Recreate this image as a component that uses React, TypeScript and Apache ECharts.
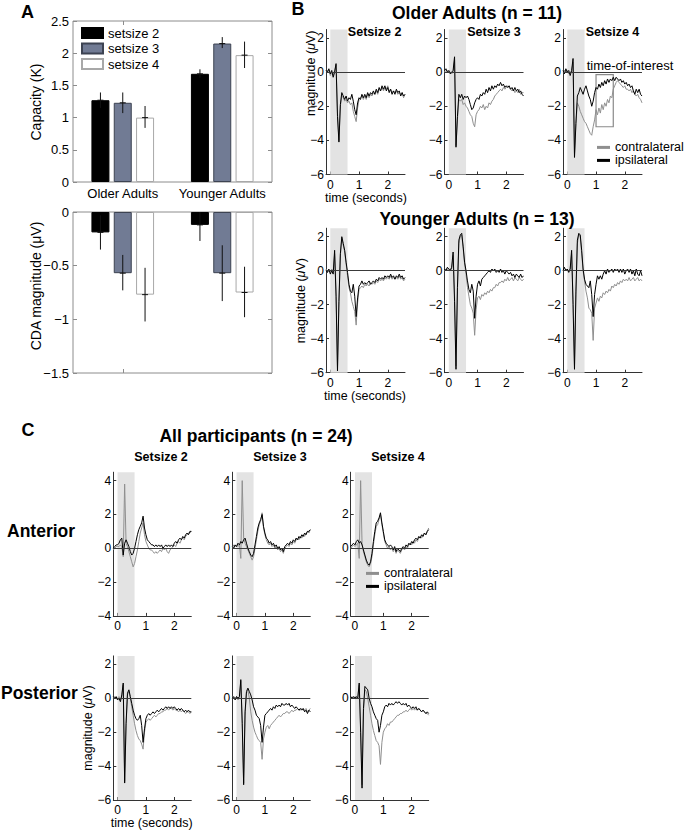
import React, { useEffect, useRef } from "react";
import * as echarts from "echarts";

const FONT = "'Liberation Sans', Arial, Helvetica, sans-serif";

// ---------- Panel A data ----------
const groups = ["Older Adults", "Younger Adults"];
const setNames = ["setsize 2", "setsize 3", "setsize 4"];
const capS2 = [1.27, 1.68];
const capS3 = [1.23, 2.15];
const capS4 = [1.0, 1.97];
const capS2Lo = [1.15, 1.62];
const capS2Hi = [1.39, 1.75];
const capS3Lo = [1.07, 2.08];
const capS3Hi = [1.39, 2.25];
const capS4Lo = [0.84, 1.77];
const capS4Hi = [1.18, 2.18];
const cdaS2 = [-0.19, -0.12];
const cdaS3 = [-0.57, -0.57];
const cdaS4 = [-0.77, -0.75];
const cdaS2Lo = [-0.35, -0.27];
const cdaS2Hi = [-0.03, 0.03];
const cdaS3Lo = [-0.73, -0.83];
const cdaS3Hi = [-0.4, -0.31];
const cdaS4Lo = [-1.02, -0.98];
const cdaS4Hi = [-0.52, -0.51];
const capTicks = [0, 0.5, 1, 1.5, 2, 2.5];
const cdaTicks = [-1.5, -1, -0.5, 0];

// ---------- ERP data ----------
const TIME = [
  -0.15, -0.1, -0.05, 0, 0.05, 0.1, 0.15, 0.2,
  0.25, 0.3, 0.35, 0.4, 0.45, 0.5, 0.55, 0.6,
  0.65, 0.7, 0.75, 0.8, 0.85, 0.9, 0.95, 1.0,
  1.05, 1.1, 1.15, 1.2, 1.25, 1.3, 1.35, 1.4,
  1.45, 1.5, 1.55, 1.6, 1.65, 1.7, 1.75, 1.8,
  1.85, 1.9, 1.95, 2.0, 2.05, 2.1, 2.15, 2.2,
  2.25, 2.3, 2.35, 2.4, 2.45, 2.5, 2.55, 2.6,
];
const timeTicks = [0, 1, 2];
const shadeWindow = [0, 0.6];
const toiX = [1.0, 1.6];
const toiY = [-0.15, -3.2];

const olderS2Ipsi = [
  0.1, 0.0, 0.2, -0.1, 0.1, -0.3, 0.0, 0.5,
  -2.6, -4.1, -1.9, -1.2, -1.4, -1.6, -1.4, -1.7,
  -1.5, -1.6, -1.3, -1.7, -2.2, -2.5, -1.8, -1.5,
  -1.6, -1.3, -1.5, -1.3, -1.5, -1.2, -1.4, -1.2,
  -1.3, -1.1, -1.3, -1.0, -1.2, -0.9, -1.1, -0.8,
  -1.0, -0.8, -1.1, -0.9, -1.2, -1.0, -1.3, -1.1,
  -1.3, -1.0, -1.2, -1.1, -1.4, -1.2, -1.4, -1.3,
];
const olderS2Contra = [
  0.0, 0.1, 0.1, -0.2, 0.0, -0.2, 0.1, 0.4,
  -2.4, -4.0, -2.0, -1.4, -1.5, -1.7, -1.6, -1.8,
  -1.7, -1.9, -1.8, -2.3, -2.6, -2.9, -2.1, -1.6,
  -1.5, -1.4, -1.6, -1.4, -1.6, -1.3, -1.5, -1.3,
  -1.4, -1.2, -1.3, -1.1, -1.3, -1.0, -1.1, -0.9,
  -1.1, -0.9, -1.0, -0.8, -1.1, -1.0, -1.2, -1.1,
  -1.2, -1.1, -1.3, -1.2, -1.3, -1.2, -1.5, -1.3,
];
const olderS3Ipsi = [
  0.1, 0.2, 0.0, 0.1, -0.1, 0.0, 0.1, 0.9,
  -4.4, -2.6, -1.3, -1.5, -1.3, -1.6, -1.4, -1.5,
  -1.4, -1.6, -1.9, -2.2, -2.1, -1.8, -1.6, -1.5,
  -1.6, -1.3, -1.4, -1.2, -1.3, -1.0, -1.2, -0.9,
  -1.1, -0.8, -1.0, -0.8, -0.9, -0.7, -0.8, -0.6,
  -0.8, -0.7, -0.9, -0.8, -0.9, -0.8, -1.0, -0.9,
  -1.1, -0.9, -1.1, -1.0, -1.2, -1.1, -1.3, -1.4,
];
const olderS3Contra = [
  0.0, 0.1, 0.1, 0.0, 0.0, -0.1, 0.0, 0.7,
  -4.3, -2.8, -1.6, -1.7, -1.6, -1.9, -1.8, -2.0,
  -2.1, -2.3, -2.5, -2.6, -3.0, -3.2, -2.5, -2.3,
  -2.2, -2.0, -2.1, -1.9, -2.2, -2.0, -2.1, -1.8,
  -1.9, -1.7, -1.6, -1.4, -1.3, -1.2, -1.1, -1.0,
  -1.1, -0.9, -1.0, -0.9, -0.8, -0.9, -1.0, -1.1,
  -1.0, -1.2, -1.1, -1.2, -1.0, -1.3, -1.2, -1.2,
];
const olderS4Ipsi = [
  0.1, -0.1, 0.2, 0.0, 0.1, -0.2, 0.1, 0.8,
  -5.0, -3.0, -1.4, -1.2, -0.9, -1.1, -1.3, -1.0,
  -0.8, -1.1, -1.4, -1.6, -2.0, -1.7, -1.2, -0.9,
  -1.0, -0.7, -0.9, -0.6, -0.8, -0.5, -0.7, -0.4,
  -0.6, -0.4, -0.5, -0.3, -0.5, -0.3, -0.4, -0.5,
  -0.4, -0.6, -0.5, -0.7, -0.6, -0.8, -0.7, -0.9,
  -0.8, -1.1, -1.3, -1.0, -1.2, -1.0, -1.3, -1.4,
];
const olderS4Contra = [
  0.0, 0.1, 0.0, 0.1, -0.1, 0.0, 0.0, 0.6,
  -4.8, -3.0, -1.8, -2.0, -2.3, -2.5, -2.7, -2.9,
  -3.0, -3.2, -3.4, -3.6, -3.7, -3.2, -2.8, -2.2,
  -2.5, -2.1, -2.4, -1.9, -2.2, -1.8, -2.0, -1.6,
  -1.8, -1.4, -1.5, -1.0, -0.8, -0.6, -0.5, -0.6,
  -0.7, -0.8, -0.9, -0.8, -1.0, -1.0, -1.1, -1.0,
  -1.2, -1.1, -1.3, -1.4, -1.3, -1.5, -1.6, -1.8,
];
const youngerS2Ipsi = [
  0.0, -0.1, 0.1, -0.2, 0.0, -0.2, 1.2, -1.5,
  -5.9, -1.8, 1.0, 2.0, 1.6, 1.2, 0.5, -0.1,
  -0.8, -1.2, -1.3, -0.8, -1.5, -2.7, -1.6, -0.9,
  -0.8, -0.6, -0.8, -0.7, -0.8, -0.7, -0.6, -0.8,
  -0.7, -0.6, -0.7, -0.5, -0.6, -0.4, -0.5, -0.4,
  -0.5, -0.3, -0.4, -0.3, -0.4, -0.2, -0.4, -0.3,
  -0.5, -0.3, -0.4, -0.2, -0.4, -0.3, -0.5, -0.4,
];
const youngerS2Contra = [
  0.1, -0.1, 0.0, -0.1, 0.1, -0.1, 1.0, -1.2,
  -5.7, -1.9, 0.9, 1.9, 1.5, 1.1, 0.4, -0.3,
  -1.0, -1.3, -1.8, -2.1, -2.4, -3.2, -1.9, -1.1,
  -1.0, -0.9, -1.0, -0.8, -0.9, -0.8, -0.9, -0.7,
  -0.8, -0.7, -0.8, -0.6, -0.7, -0.5, -0.6, -0.5,
  -0.6, -0.4, -0.5, -0.4, -0.5, -0.3, -0.5, -0.4,
  -0.5, -0.4, -0.5, -0.3, -0.5, -0.4, -0.6, -0.5,
];
const youngerS3Ipsi = [
  0.1, 0.0, 0.2, 0.1, 0.0, 0.2, 1.1, -1.8,
  -5.8, -1.0, 1.8, 2.1, 2.2, 1.4, 0.5, 0.0,
  -0.6, -1.1, -1.3, -0.8, -1.2, -2.8, -1.5, -0.8,
  -0.6, -0.9, -0.5, -0.4, -0.3, -0.2, -0.1, 0.0,
  -0.1, 0.1, 0.0, 0.1, -0.1, 0.0, -0.1, 0.1,
  -0.1, 0.0, -0.2, 0.0, -0.1, -0.2, -0.1, -0.3,
  -0.2, -0.4, -0.2, -0.3, -0.4, -0.2, -0.4, -0.3,
];
const youngerS3Contra = [
  0.0, 0.1, 0.1, 0.0, 0.1, 0.1, 0.9, -1.5,
  -5.6, -1.2, 1.6, 2.0, 2.1, 1.3, 0.4, -0.2,
  -1.0, -1.5, -2.0, -2.2, -2.5, -3.8, -2.3, -1.6,
  -1.5, -1.7, -1.4, -1.5, -1.3, -1.4, -1.2, -1.3,
  -1.1, -1.2, -1.0, -1.0, -0.8, -0.9, -0.7, -0.7,
  -0.6, -0.7, -0.5, -0.6, -0.4, -0.6, -0.5, -0.4,
  -0.6, -0.4, -0.5, -0.6, -0.4, -0.5, -0.6, -0.5,
];
const youngerS4Ipsi = [
  0.0, 0.2, 0.0, 0.1, -0.1, 0.1, 1.2, -2.0,
  -5.8, -1.2, 1.8, 2.2, 2.1, 1.2, 0.1, -0.5,
  -0.8, -0.9, -1.0, -0.6, -1.4, -2.7, -1.4, -0.8,
  -0.3, -0.5, -0.3, -0.5, -0.2, 0.0, -0.2, 0.1,
  -0.1, 0.0, 0.1, -0.1, 0.1, 0.0, 0.1, -0.1,
  0.1, -0.1, 0.1, -0.2, 0.0, 0.1, -0.1, 0.1,
  -0.2, 0.0, -0.3, 0.1, -0.2, -0.3, 0.0, -0.3,
];
const youngerS4Contra = [
  0.1, 0.0, 0.1, 0.0, 0.0, 0.1, 1.0, -1.7,
  -5.6, -1.4, 1.6, 2.1, 2.0, 1.0, 0.0, -0.6,
  -1.2, -1.6, -2.2, -2.3, -2.5, -4.1, -2.2, -1.9,
  -1.6, -1.8, -1.5, -1.6, -1.3, -1.4, -1.2, -1.3,
  -1.1, -1.2, -0.9, -1.0, -0.8, -0.9, -0.7, -0.8,
  -0.6, -0.7, -0.5, -0.6, -0.5, -0.6, -0.4, -0.6,
  -0.5, -0.4, -0.6, -0.5, -0.4, -0.6, -0.5, -0.6,
];
const antS2Ipsi = [
  0.0, 0.1, 0.2, 0.2, 0.3, 0.5, 0.6, -0.4,
  0.3, 0.5, 0.3, 0.1, -0.2, -0.4, -0.3, 0.0,
  0.4, 0.8, 1.1, 1.3, 1.5, 1.9, 1.2, 0.8,
  0.5, 0.4, 0.3, 0.2, 0.2, 0.1, 0.2, 0.1,
  0.2, 0.1, 0.2, 0.0, 0.1, 0.2, 0.1, 0.2,
  0.1, 0.2, 0.1, 0.3, 0.4, 0.3, 0.5, 0.6,
  0.5, 0.7, 0.6, 0.8, 0.9, 0.8, 1.0, 1.0,
];
const antS2Contra = [
  -0.1, 0.0, 0.1, 0.1, 0.1, 0.2, 0.1, -0.5,
  3.8, 0.3, 0.1, -0.2, -0.5, -0.8, -1.1, -0.9,
  -0.5, -0.1, 0.4, 0.9, 1.2, 1.5, 0.8, 0.4,
  0.2, 0.0, -0.1, -0.1, -0.2, -0.3, -0.2, -0.3,
  -0.2, -0.1, -0.2, 0.0, -0.1, 0.0, -0.2, -0.3,
  -0.1, 0.0, 0.1, 0.2, 0.1, 0.3, 0.4, 0.3,
  0.5, 0.6, 0.5, 0.7, 0.8, 0.9, 0.9, 1.0,
];
const antS3Ipsi = [
  0.1, 0.0, 0.2, 0.1, 0.3, 0.2, 0.4, 0.3,
  0.5, 0.6, 0.3, 0.0, -0.2, -0.4, -0.5, -0.3,
  0.2, 0.7, 1.2, 1.5, 1.7, 2.0, 1.3, 0.9,
  0.6, 0.5, 0.3, 0.4, 0.2, 0.3, 0.1, 0.2,
  0.0, 0.1, -0.1, 0.0, -0.2, 0.1, 0.2, 0.3,
  0.2, 0.4, 0.3, 0.5, 0.4, 0.6, 0.5, 0.7,
  0.6, 0.8, 0.7, 0.9, 0.8, 1.0, 1.0, 1.1,
];
const antS3Contra = [
  0.0, 0.2, 0.1, 0.2, 0.1, 0.2, -0.6, 4.0,
  0.6, 0.3, 0.1, -0.1, -0.3, -0.5, -0.7, -0.5,
  0.0, 0.5, 1.0, 1.4, 1.6, 2.1, 1.2, 0.8,
  0.5, 0.3, 0.2, 0.3, 0.1, 0.2, 0.0, 0.1,
  -0.1, 0.0, -0.2, -0.1, -0.3, 0.0, 0.1, 0.2,
  0.1, 0.3, 0.2, 0.4, 0.3, 0.5, 0.6, 0.5,
  0.7, 0.6, 0.8, 0.7, 0.9, 1.0, 0.9, 1.1,
];
const antS4Ipsi = [
  0.1, 0.2, 0.3, 0.2, 0.4, 0.5, 0.3, 0.4,
  0.2, -0.1, -0.4, -0.7, -0.9, -1.0, -0.8, -0.3,
  0.4, 1.0, 1.5, 1.6, 1.8, 2.1, 1.5, 1.0,
  0.5, 0.3, 0.2, 0.1, 0.2, 0.1, -0.1, 0.1,
  -0.2, 0.0, -0.1, -0.2, 0.0, 0.1, 0.0, 0.2,
  0.1, 0.3, 0.2, 0.4, 0.3, 0.5, 0.6, 0.5,
  0.7, 0.6, 0.8, 0.7, 0.9, 0.8, 1.0, 1.1,
];
const antS4Contra = [
  0.0, 0.1, 0.2, 0.1, 0.2, 0.3, -0.6, 4.0,
  0.3, -0.2, -0.5, -0.8, -1.0, -1.1, -0.9, -0.5,
  0.2, 0.8, 1.3, 1.4, 1.7, 2.0, 1.4, 0.9,
  0.4, 0.2, 0.0, 0.1, -0.1, 0.0, -0.2, 0.0,
  -0.3, -0.1, -0.2, -0.3, -0.1, 0.0, -0.1, 0.1,
  0.0, 0.2, 0.3, 0.2, 0.4, 0.3, 0.5, 0.4,
  0.6, 0.7, 0.6, 0.8, 0.9, 0.8, 1.0, 1.2,
];
const postS2Ipsi = [
  0.1, 0.0, 0.1, -0.1, 0.0, -0.2, 0.2, 0.9,
  -5.0, -1.5, 0.3, 0.5, 0.1, -0.3, -0.7, -1.0,
  -1.2, -1.3, -1.2, -1.0, -1.6, -2.6, -1.8, -1.2,
  -1.0, -0.9, -1.0, -0.9, -0.8, -0.9, -0.8, -0.7,
  -0.8, -0.7, -0.6, -0.7, -0.6, -0.5, -0.6, -0.5,
  -0.6, -0.5, -0.6, -0.5, -0.6, -0.7, -0.6, -0.7,
  -0.6, -0.7, -0.8, -0.7, -0.8, -0.7, -0.8, -0.8,
];
const postS2Contra = [
  0.0, 0.1, 0.0, 0.0, 0.1, -0.1, 0.1, 0.8,
  -4.9, -1.6, 0.2, 0.4, 0.0, -0.5, -1.0, -1.5,
  -1.9, -2.2, -2.4, -2.5, -2.7, -3.0, -2.0, -1.4,
  -1.3, -1.2, -1.3, -1.2, -1.1, -1.0, -1.1, -1.0,
  -0.9, -0.9, -0.8, -0.8, -0.7, -0.7, -0.6, -0.7,
  -0.6, -0.6, -0.7, -0.6, -0.7, -0.7, -0.8, -0.7,
  -0.8, -0.7, -0.8, -0.9, -0.8, -0.8, -0.9, -0.8,
];
const postS3Ipsi = [
  0.0, 0.1, -0.1, 0.1, 0.0, 0.1, 1.1, -1.5,
  -5.1, -0.8, 0.4, 0.6, 0.4, 0.2, -0.1, -0.5,
  -0.7, -1.0, -1.1, -1.2, -1.6, -2.6, -1.7, -1.0,
  -0.9, -0.8, -0.7, -0.6, -0.7, -0.5, -0.6, -0.4,
  -0.5, -0.4, -0.5, -0.3, -0.4, -0.4, -0.3, -0.4,
  -0.3, -0.5, -0.4, -0.5, -0.6, -0.5, -0.6, -0.7,
  -0.6, -0.7, -0.6, -0.8, -0.7, -0.9, -0.7, -0.8,
];
const postS3Contra = [
  0.1, 0.0, 0.0, 0.1, -0.1, 0.0, 1.0, -1.3,
  -5.0, -1.0, 0.3, 0.5, 0.0, -0.8, -1.3, -1.7,
  -2.0, -2.2, -2.4, -2.5, -2.6, -3.6, -2.4, -2.0,
  -1.7, -1.6, -1.8, -1.6, -1.5, -1.4, -1.3, -1.2,
  -1.1, -1.0, -1.1, -1.0, -0.9, -0.9, -0.8, -0.8,
  -0.9, -0.8, -0.7, -0.8, -0.7, -0.7, -0.6, -0.7,
  -0.7, -0.6, -0.7, -0.7, -0.6, -0.8, -0.7, -0.6,
];
const postS4Ipsi = [
  0.1, 0.0, 0.1, 0.0, 0.1, 0.0, 0.9, -2.0,
  -5.3, -0.6, 0.7, 0.6, 0.5, 0.0, -0.3, -0.5,
  -0.8, -1.0, -1.2, -1.3, -2.0, -1.6, -1.0, -0.8,
  -0.5, -0.4, -0.5, -0.3, -0.4, -0.3, -0.4, -0.3,
  -0.2, -0.3, -0.2, -0.3, -0.4, -0.3, -0.4, -0.3,
  -0.5, -0.4, -0.5, -0.6, -0.5, -0.6, -0.5, -0.7,
  -0.6, -0.7, -0.8, -0.7, -0.8, -0.9, -0.8, -0.9,
];
const postS4Contra = [
  0.0, 0.1, 0.0, 0.1, 0.0, 0.1, 0.8, -1.8,
  -5.1, -0.8, 0.5, 0.4, 0.0, -0.5, -1.0, -1.5,
  -1.9, -2.2, -2.5, -2.6, -2.8, -3.9, -2.6, -2.0,
  -1.8, -1.7, -1.5, -1.6, -1.4, -1.4, -1.3, -1.2,
  -1.1, -1.0, -1.0, -0.9, -0.9, -0.8, -0.8, -0.7,
  -0.8, -0.7, -0.6, -0.7, -0.6, -0.7, -0.6, -0.7,
  -0.6, -0.7, -0.8, -0.7, -0.8, -0.9, -0.9, -1.0,
];

const erpTicksB = [-6, -4, -2, 0, 2];
const erpTicksAnt = [-4, -2, 0, 2, 4];

const CONTRA = "#8f8f8f";
const IPSI = "#000000";

const minus = (v: number) => (v < 0 ? "\u2212" + String(Math.abs(v)) : String(v));

type Panel = {
  left: number; top: number; width: number; height: number;
  yMin: number; yMax: number; yTicks: number[];
  contra: number[]; ipsi: number[]; toi?: boolean;
};

const PANELS: Panel[] = [
  { left: 326, top: 29.5, width: 79, height: 145, yMin: -6, yMax: 2.5, yTicks: erpTicksB, contra: olderS2Contra, ipsi: olderS2Ipsi },
  { left: 444.5, top: 29.5, width: 79, height: 145, yMin: -6, yMax: 2.5, yTicks: erpTicksB, contra: olderS3Contra, ipsi: olderS3Ipsi },
  { left: 563, top: 29.5, width: 79, height: 145, yMin: -6, yMax: 2.5, yTicks: erpTicksB, contra: olderS4Contra, ipsi: olderS4Ipsi, toi: true },
  { left: 326, top: 228.2, width: 79, height: 144.5, yMin: -6, yMax: 2.5, yTicks: erpTicksB, contra: youngerS2Contra, ipsi: youngerS2Ipsi },
  { left: 444.5, top: 228.2, width: 79, height: 144.5, yMin: -6, yMax: 2.5, yTicks: erpTicksB, contra: youngerS3Contra, ipsi: youngerS3Ipsi },
  { left: 563, top: 228.2, width: 79, height: 144.5, yMin: -6, yMax: 2.5, yTicks: erpTicksB, contra: youngerS4Contra, ipsi: youngerS4Ipsi },
  { left: 113.3, top: 472.2, width: 78, height: 143.7, yMin: -4, yMax: 4.5, yTicks: erpTicksAnt, contra: antS2Contra, ipsi: antS2Ipsi },
  { left: 232.3, top: 472.2, width: 78, height: 143.7, yMin: -4, yMax: 4.5, yTicks: erpTicksAnt, contra: antS3Contra, ipsi: antS3Ipsi },
  { left: 350.7, top: 472.2, width: 78, height: 143.7, yMin: -4, yMax: 4.5, yTicks: erpTicksAnt, contra: antS4Contra, ipsi: antS4Ipsi },
  { left: 113.3, top: 655.9, width: 78, height: 144.1, yMin: -6, yMax: 2.5, yTicks: erpTicksB, contra: postS2Contra, ipsi: postS2Ipsi },
  { left: 232.3, top: 655.9, width: 78, height: 144.1, yMin: -6, yMax: 2.5, yTicks: erpTicksB, contra: postS3Contra, ipsi: postS3Ipsi },
  { left: 350.7, top: 655.9, width: 78, height: 144.1, yMin: -6, yMax: 2.5, yTicks: erpTicksB, contra: postS4Contra, ipsi: postS4Ipsi },
];

function errorBars(xAxisIndex: number, yAxisIndex: number, lo: number[], hi: number[], mean: number[], offset: number) {
  return {
    type: "custom",
    xAxisIndex,
    yAxisIndex,
    silent: true,
    clip: true,
    z: 5,
    data: groups.map((_, i) => [i, lo[i], hi[i], mean[i]]),
    renderItem: (_params: any, api: any) => {
      const c = api.coord([api.value(0), api.value(3)]);
      const a = api.coord([api.value(0), api.value(1)]);
      const b = api.coord([api.value(0), api.value(2)]);
      const x = c[0] + offset;
      return {
        type: "group",
        children: [
          { type: "line", shape: { x1: x, y1: a[1], x2: x, y2: b[1] }, style: { stroke: "#111", lineWidth: 1 } },
          { type: "line", shape: { x1: x - 3, y1: c[1], x2: x + 3, y2: c[1] }, style: { stroke: "#111", lineWidth: 1 } },
        ],
      };
    },
  };
}

function buildOption() {
  const grid: any[] = [
    { left: 73, top: 21, width: 199, height: 161, show: true, borderColor: "#8c8c8c", borderWidth: 1 },
    { left: 73, top: 212, width: 199, height: 161, show: true, borderColor: "#8c8c8c", borderWidth: 1 },
  ];
  const tickA = { show: true, inside: true, length: 4, alignWithLabel: true, lineStyle: { color: "#8c8c8c" } };
  const xAxis: any[] = [
    { gridIndex: 0, type: "category", data: groups, position: "bottom", axisLine: { show: false, onZero: false }, axisTick: tickA,
      axisLabel: { interval: 0, fontSize: 13, color: "#000", margin: 5, fontFamily: FONT } },
    { gridIndex: 0, type: "category", data: groups, position: "top", axisLine: { show: false, onZero: false }, axisTick: tickA, axisLabel: { show: false } },
    { gridIndex: 1, type: "category", data: groups, position: "bottom", axisLine: { show: false, onZero: false }, axisTick: tickA, axisLabel: { show: false } },
    { gridIndex: 1, type: "category", data: groups, position: "top", axisLine: { show: false, onZero: false }, axisTick: tickA, axisLabel: { show: false } },
  ];
  const yTickA = { show: true, inside: true, length: 4, lineStyle: { color: "#8c8c8c" } };
  const yAxis: any[] = [
    { gridIndex: 0, type: "value", min: 0, max: 2.5, interval: 0.5, position: "left", splitLine: { show: false },
      axisLine: { show: false, onZero: false }, axisTick: yTickA,
      axisLabel: { fontSize: 13, color: "#000", margin: 4, fontFamily: FONT, customValues: capTicks, formatter: (v: number) => minus(v) } },
    { gridIndex: 0, type: "value", min: 0, max: 2.5, interval: 0.5, position: "right", splitLine: { show: false },
      axisLine: { show: false, onZero: false }, axisTick: yTickA, axisLabel: { show: false } },
    { gridIndex: 1, type: "value", min: -1.5, max: 0, interval: 0.5, position: "left", splitLine: { show: false },
      axisLine: { show: false, onZero: false }, axisTick: yTickA,
      axisLabel: { fontSize: 13, color: "#000", margin: 4, fontFamily: FONT, customValues: cdaTicks, formatter: (v: number) => minus(v) } },
    { gridIndex: 1, type: "value", min: -1.5, max: 0, interval: 0.5, position: "right", splitLine: { show: false },
      axisLine: { show: false, onZero: false }, axisTick: yTickA, axisLabel: { show: false } },
  ];

  const barStyles = [
    { color: "#000000", borderColor: "#000000", borderWidth: 1 },
    { color: "#717b94", borderColor: "#3d4352", borderWidth: 1 },
    { color: "#ffffff", borderColor: "#a8a8a8", borderWidth: 1 },
  ];
  const capVals = [capS2, capS3, capS4];
  const cdaVals = [cdaS2, cdaS3, cdaS4];
  const series: any[] = [];
  setNames.forEach((name, k) => {
    series.push({ name, type: "bar", xAxisIndex: 0, yAxisIndex: 0, data: capVals[k], barWidth: 18, barGap: "24%", itemStyle: barStyles[k] });
  });
  setNames.forEach((name, k) => {
    series.push({ name, type: "bar", xAxisIndex: 2, yAxisIndex: 2, data: cdaVals[k], barWidth: 18, barGap: "24%", itemStyle: barStyles[k] });
  });
  const off = [-22.3, 0, 22.3];
  series.push(errorBars(0, 0, capS2Lo, capS2Hi, capS2, off[0]));
  series.push(errorBars(0, 0, capS3Lo, capS3Hi, capS3, off[1]));
  series.push(errorBars(0, 0, capS4Lo, capS4Hi, capS4, off[2]));
  series.push(errorBars(2, 2, cdaS2Lo, cdaS2Hi, cdaS2, off[0]));
  series.push(errorBars(2, 2, cdaS3Lo, cdaS3Hi, cdaS3, off[1]));
  series.push(errorBars(2, 2, cdaS4Lo, cdaS4Hi, cdaS4, off[2]));

  PANELS.forEach((p) => {
    const gi = grid.length;
    grid.push({ left: p.left, top: p.top, width: p.width, height: p.height });
    const ai = xAxis.length;
    xAxis.push({
      gridIndex: gi, type: "value", min: -0.15, max: 2.6, splitLine: { show: false },
      axisLine: { show: true, onZero: false, lineStyle: { color: "#333", width: 1 } },
      axisTick: { show: true, inside: true, length: 3, customValues: timeTicks, lineStyle: { color: "#333" } },
      axisLabel: { customValues: timeTicks, fontSize: 12, color: "#000", margin: 4, fontFamily: FONT, formatter: (v: number) => minus(v) },
    });
    yAxis.push({
      gridIndex: gi, type: "value", min: p.yMin, max: p.yMax, splitLine: { show: false },
      axisLine: { show: true, onZero: false, lineStyle: { color: "#333", width: 1 } },
      axisTick: { show: true, inside: true, length: 3, customValues: p.yTicks, lineStyle: { color: "#333" } },
      axisLabel: { customValues: p.yTicks, fontSize: 12, color: "#000", margin: 2, fontFamily: FONT, formatter: (v: number) => minus(v) },
    });
    series.push({
      type: "line", xAxisIndex: ai, yAxisIndex: ai, data: [], silent: true, z: 1,
      markArea: { silent: true, itemStyle: { color: "#e3e3e3" }, data: [[{ xAxis: shadeWindow[0] }, { xAxis: shadeWindow[1] }]] },
      markLine: { silent: true, symbol: ["none", "none"], label: { show: false }, lineStyle: { color: "#3a3a3a", width: 1, type: "solid" }, data: [{ yAxis: 0 }] },
    });
    series.push({
      name: "contralateral", type: "line", xAxisIndex: ai, yAxisIndex: ai, z: 2,
      data: TIME.map((t, j) => [t, p.contra[j]]), symbol: "none", showSymbol: false,
      lineStyle: { color: CONTRA, width: 1 }, itemStyle: { color: CONTRA },
    });
    series.push({
      name: "ipsilateral", type: "line", xAxisIndex: ai, yAxisIndex: ai, z: 3,
      data: TIME.map((t, j) => [t, p.ipsi[j]]), symbol: "none", showSymbol: false,
      lineStyle: { color: IPSI, width: 1 }, itemStyle: { color: IPSI },
    });
    if (p.toi) {
      series.push({
        type: "line", xAxisIndex: ai, yAxisIndex: ai, data: [], silent: true, z: 4,
        markArea: {
          silent: true,
          itemStyle: { color: "rgba(0,0,0,0)", borderColor: "#8a8a8a", borderWidth: 1.2 },
          data: [[{ coord: [toiX[0], toiY[0]] }, { coord: [toiX[1], toiY[1]] }]],
        },
      });
    }
  });

  const bold = (size: number) => ({ fontSize: size, fontWeight: "bold", fontFamily: FONT, fill: "#000" });
  const txt = (x: number, y: number, text: string, style: any, align = "center", rotation = 0) => ({
    type: "text", x, y, rotation, z: 100,
    style: { text, align, verticalAlign: "middle", ...style },
  });
  const plain = (size: number) => ({ fontSize: size, fontFamily: FONT, fill: "#000" });
  const magLabel = (x: number, y: number) => ({
    type: "text", x, y, rotation: Math.PI / 2, z: 100,
    style: {
      text: "magnitude ({i|\u03bc}V)", align: "center", verticalAlign: "middle", fontSize: 12.5, fontFamily: FONT, fill: "#000",
      rich: { i: { fontStyle: "italic", fontSize: 12.5, fontFamily: FONT, fill: "#000" } },
    },
  });

  const graphic: any[] = [
    txt(27.5, 11.5, "A", bold(18)),
    txt(298, 9, "B", bold(18)),
    txt(28, 430, "C", bold(18)),
    txt(477, 13, "Older Adults (n = 11)", bold(17.5)),
    txt(477, 219, "Younger Adults (n = 13)", bold(17.5)),
    txt(256, 436, "All participants (n = 24)", bold(17.5)),
    txt(374.6, 32, "Setsize 2", bold(12.5)),
    txt(494, 32, "Setsize 3", bold(12.5)),
    txt(612.5, 32, "Setsize 4", bold(12.5)),
    txt(161, 456.7, "Setsize 2", bold(12.5)),
    txt(280, 456.7, "Setsize 3", bold(12.5)),
    txt(398, 456.7, "Setsize 4", bold(12.5)),
    txt(7, 530.7, "Anterior", bold(17.5), "left"),
    txt(1, 693, "Posterior", bold(17.5), "left"),
    magLabel(311, 73.3),
    magLabel(301, 300.7),
    magLabel(88, 728),
    txt(366, 197.5, "time (seconds)", plain(12.5)),
    txt(365, 395.5, "time (seconds)", plain(12.5)),
    txt(151.7, 823, "time (seconds)", plain(12.5)),
    txt(36, 102, "Capacity (K)", plain(14), "center", Math.PI / 2),
    txt(36, 286, "CDA magnitude (\u03bcV)", plain(14), "center", Math.PI / 2),
    txt(630, 65, "time-of-interest", plain(13)),
  ];

  const legend: any[] = [
    {
      data: setNames, orient: "vertical", left: 81, top: 25.3, padding: 0, itemGap: 0, icon: "rect",
      itemWidth: 21, itemHeight: 10, selectedMode: false,
      textStyle: { fontSize: 13, color: "#000", fontFamily: FONT, lineHeight: 15.5 },
    },
    {
      data: ["contralateral", "ipsilateral"], orient: "vertical", left: 597, top: 140.9, padding: 0, itemGap: 0, icon: "rect",
      itemWidth: 13, itemHeight: 3, selectedMode: false,
      textStyle: { fontSize: 12.5, color: "#000", fontFamily: FONT, lineHeight: 11.6 },
    },
    {
      data: ["contralateral", "ipsilateral"], orient: "vertical", left: 366, top: 566.9, padding: 0, itemGap: 0, icon: "rect",
      itemWidth: 13, itemHeight: 3, selectedMode: false,
      textStyle: { fontSize: 12.5, color: "#000", fontFamily: FONT, lineHeight: 11.6 },
    },
  ];

  return {
    animation: false,
    backgroundColor: "#ffffff",
    textStyle: { fontFamily: FONT },
    grid, xAxis, yAxis, series, graphic, legend,
  };
}

export default function App() {
  const ref = useRef<HTMLDivElement>(null);
  useEffect(() => {
    document.body.style.margin = "0";
    if (!ref.current) return;
    const chart = echarts.init(ref.current, null, { renderer: "svg" });
    chart.setOption(buildOption() as any);
    return () => chart.dispose();
  }, []);
  return <div ref={ref} style={{ width: 685, height: 830 }} />;
}
